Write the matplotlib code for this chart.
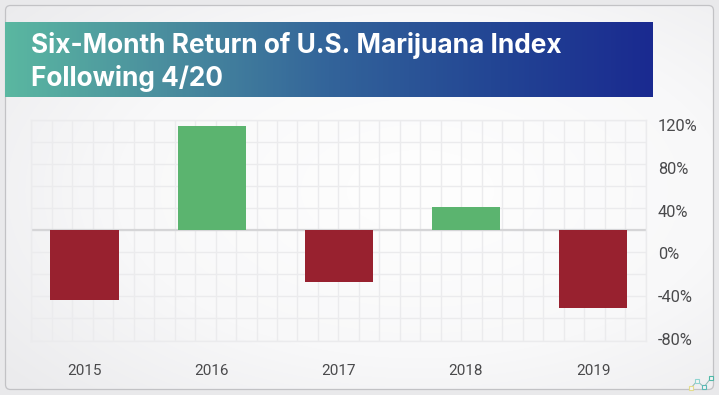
import numpy as np
import matplotlib
matplotlib.use('Agg')
import matplotlib.pyplot as plt
from matplotlib.colors import LinearSegmentedColormap
from matplotlib.patches import FancyBboxPatch

years = ['2015', '2016', '2017', '2018', '2019']
returns = [-63, 94, -47, 21, -71]
tick_vals = [120, 80, 40, 0, -40, -80]
tick_labels = ['120%', '80%', '40%', '0%', '-40%', '-80%']
title_lines = ['Six-Month Return of U.S. Marijuana Index', 'Following 4/20']

W, H = 719, 395
GREEN = '#5bb46f'
RED = '#98212f'
TEXT = '#4a4a4c'

plt.rcParams['font.family'] = ['Roboto', 'DejaVu Sans']


def px_axes(left, top, right, bottom):
    return fig.add_axes([left / W, 1 - bottom / H, (right - left) / W, (bottom - top) / H])


fig = plt.figure(figsize=(W / 100, H / 100), dpi=100, facecolor='#e9e9eb')

#card background and header band, in pixel coordinates
bg = px_axes(0, 0, W, H)
bg.set_xlim(0, W)
bg.set_ylim(H, 0)
bg.axis('off')

yy, xx = np.mgrid[0:H, 0:W]
dist = np.hypot((xx - 420) / W, (yy - 190) / H)
card_cmap = LinearSegmentedColormap.from_list('card', ['#fdfdfd', '#f8f8f9', '#ebebed'])
im = bg.imshow(dist, cmap=card_cmap, vmin=0.1, vmax=0.75, extent=(0, W, H, 0), aspect='auto', zorder=1)
card = FancyBboxPatch((5.5, 5.5), 708, 384, boxstyle='round,pad=0,rounding_size=5',
                      fc='none', ec='#c2c2c5', lw=0.9, zorder=2)
bg.add_patch(card)
im.set_clip_path(card)

band_cmap = LinearSegmentedColormap.from_list(
    'band', ['#5ab7a1', '#4a8d9e', '#33649a', '#234694', '#1a2a90'])
bg.imshow(np.linspace(0, 1, 300).reshape(1, -1), cmap=band_cmap, aspect='auto',
          extent=(5, 653, 97, 22), zorder=3)
bg.set_xlim(0, W)
bg.set_ylim(H, 0)

bg.text(31, 53, title_lines[0], family='Inter', color='white', fontsize=18.9, fontweight='bold', zorder=4)
bg.text(31, 86, title_lines[1], family='Inter', color='white', fontsize=18.9, fontweight='bold', zorder=4)

#little logo in the corner
bg.plot([691, 697, 704, 711], [388, 381, 387, 378], color='#8fb9b4', lw=0.7, zorder=4)
for x, y, c in zip([691, 697, 704, 711], [388, 381, 387, 378],
                   ['#e3dc8c', '#8fd4d0', '#5bb9b5', '#4fb8a8']):
    bg.plot(x, y, 's', ms=2.6, mfc='#f4f4f5', mec=c, mew=0.8, zorder=5)

#grid sits on its own axes, 30 columns by 10 rows
grid_ax = px_axes(31.3, 119.5, 645.5, 340.5)
grid_ax.set_xlim(0, 30)
grid_ax.set_ylim(-5, 5)
grid_ax.set_xticks(range(31))
grid_ax.set_yticks(range(-5, 6))
grid_ax.tick_params(length=0, labelbottom=False, labelleft=False)
grid_ax.grid(color='#ebebed', lw=1.0)
grid_ax.patch.set_alpha(0)
for s in grid_ax.spines.values():
    s.set_color('#ebebed')
    s.set_linewidth(1.0)
grid_ax.axhline(0, color='#d5d5d7', lw=1.6)

#bars
ax = px_axes(31.3, 119.5, 645.5, 340.5)
ax.patch.set_alpha(0)
x = np.arange(len(years))
colors = [GREEN if v > 0 else RED for v in returns]
ax.bar(x, returns, width=0.537, color=colors)
ax.set_xlim(-0.419, 4.413)
ax.set_ylim(-100, 100)
ax.set_xticks(x, years)
ax.set_yticks([])
ax.tick_params(axis='x', length=0, pad=17, labelsize=11, labelcolor=TEXT)
for s in ax.spines.values():
    s.set_visible(False)

#the printed scale does not line up with the grid in the original
ax2 = ax.twinx()
ax2.set_ylim(-81.4, 125.1)
ax2.set_yticks(tick_vals, tick_labels)
ax2.tick_params(axis='y', length=0, pad=9, labelsize=11.8, labelcolor=TEXT)
for s in ax2.spines.values():
    s.set_visible(False)

fig.savefig('out.png', dpi=100, facecolor=fig.get_facecolor())
